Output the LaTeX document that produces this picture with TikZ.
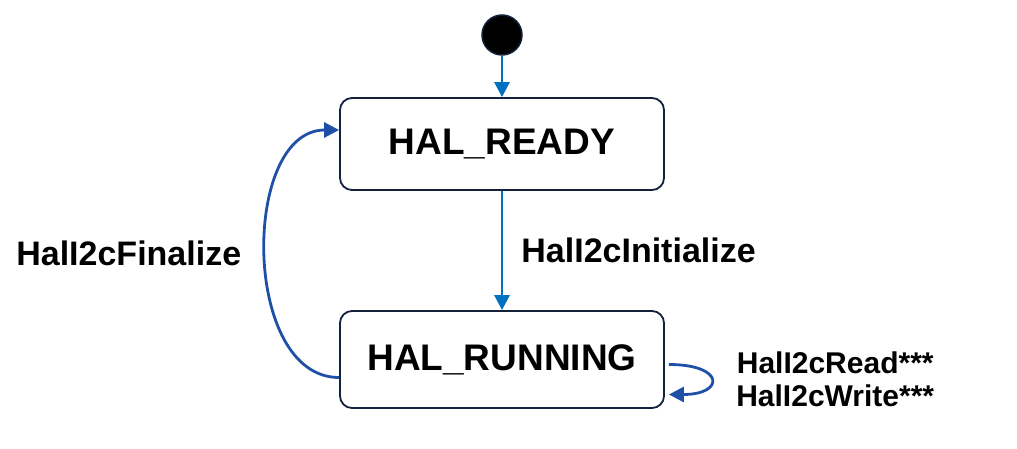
\documentclass[tikz,border=0pt]{standalone}
\usepackage{fontspec}
\setmainfont{Liberation Sans}
\usetikzlibrary{arrows.meta,positioning}
\definecolor{halnavy}{HTML}{14213D}
\definecolor{halblue}{HTML}{0070C0}
\definecolor{halloop}{HTML}{1E50A8}

\begin{document}
\begin{tikzpicture}[x=1pt,y=-1pt,
  halstate/.style={draw=halnavy,line width=1.8pt,rounded corners=12pt,fill=white,minimum width=324pt,font=\fontsize{37}{40}\selectfont\bfseries},
  haledge/.style={line width=2.8pt,-{Triangle[length=15pt,width=15pt]}},
  hallabel/.style={inner sep=0pt,text=black,font=\fontsize{34}{38}\selectfont\bfseries}]
\useasboundingbox (0,0) rectangle (1017,449); %Picture size in pixels
\node[circle,fill=black,draw=halnavy,line width=1.5pt,minimum size=40pt,inner sep=0pt] (init) at (502,35) {}; %Initial state
\node[halstate,minimum height=92pt] (ready) at (502,144) {HAL\_READY}; %Ready state
\node[halstate,minimum height=97pt] (running) at (502,359.5) {HAL\_RUNNING}; %Running state
\draw[haledge,halblue] (init) -- (ready); %Start
\draw[haledge,halblue] (ready) -- node[midway,right=18pt,hallabel] {HalI2cInitialize} (running); %Initialize
\draw[haledge,halloop] ([yshift=-18pt]running.west) .. controls +(-98,0) and +(-98,0) .. node[pos=0.5,left=23pt,hallabel] {HalI2cFinalize} ([yshift=14pt]ready.west); %Finalize
\draw[haledge,halloop] ([xshift=4pt,yshift=-5pt]running.east) .. controls +(56,0) and +(56,0) .. node[pos=0.5,right=24pt,hallabel,align=center,font=\fontsize{30}{33}\selectfont\bfseries] {HalI2cRead***\\HalI2cWrite***} ([xshift=4pt,yshift=-35pt]running.east); %Read and write
\end{tikzpicture}
\end{document}
